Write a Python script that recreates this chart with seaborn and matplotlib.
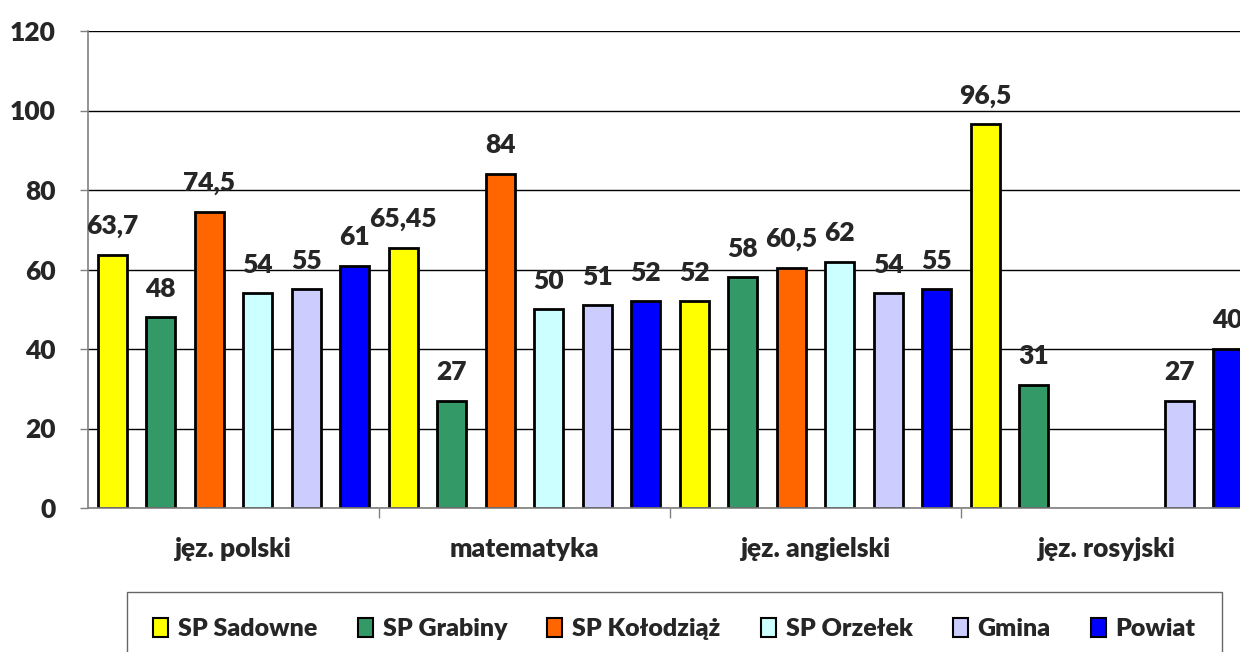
import pandas as pd
import numpy as np
import matplotlib
matplotlib.use("Agg")
import matplotlib.pyplot as plt
import seaborn as sns

# data
subjects = ["jęz. polski", "matematyka", "jęz. angielski", "jęz. rosyjski"]
schools = ["SP Sadowne", "SP Grabiny", "SP Kołodziąż", "SP Orzełek", "Gmina", "Powiat"]
sadowne = [63.7, 65.45, 52, 96.5]
grabiny = [48, 27, 58, 31]
kolodziaz = [74.5, 84, 60.5, np.nan]
orzelek = [54, 50, 62, np.nan]
gmina = [55, 51, 54, 27]
powiat = [61, 52, 55, 40]

colors = ["#FFFF00", "#339966", "#FF6600", "#CCFFFF", "#CCCCFF", "#0000FF"]

rows = []
for school, vals in zip(schools, [sadowne, grabiny, kolodziaz, orzelek, gmina, powiat]):
    for subj, v in zip(subjects, vals):
        rows.append({"przedmiot": subj, "szkola": school, "wynik": v})
df = pd.DataFrame(rows)

sns.set_theme(style="white")
plt.rcParams["font.family"] = ["Lato", "DejaVu Sans"]
plt.rcParams["font.weight"] = "bold"

fig = plt.figure(figsize=(12.4, 6.52), dpi=100)
ax = fig.add_axes([88 / 1240, 1 - 508 / 652, 1164 / 1240, 477 / 652])

sns.barplot(data=df, x="przedmiot", y="wynik", hue="szkola",
            order=subjects, hue_order=schools,
            palette=dict(zip(schools, colors)), saturation=1,
            width=1.0, gap=0.4, errorbar=None,
            edgecolor="black", linewidth=2, ax=ax)

# value labels, decimal comma as in the original
for cont in ax.containers:
    ax.bar_label(cont, fmt=lambda v: f"{v:g}".replace(".", ","),
                 padding=12, fontsize=19, fontweight="heavy")

ax.set_xlim(-0.5, 3.5)
ax.set_ylim(0, 120)
ax.set_yticks(range(0, 121, 20))
ax.set_xlabel("")
ax.set_ylabel("")

ax.yaxis.grid(True, color="black", linewidth=1)
ax.set_axisbelow(True)
for s in ["top", "right"]:
    ax.spines[s].set_visible(False)
ax.spines["left"].set_color("#808080")
ax.spines["bottom"].set_color("#808080")
ax.spines["left"].set_linewidth(1.2)
ax.spines["bottom"].set_linewidth(1.2)

ax.tick_params(axis="y", which="major", left=True, length=6, width=1,
               color="#808080", pad=17, labelsize=19)
ax.tick_params(axis="x", which="major", bottom=False, length=0, pad=21, labelsize=19)
ax.set_xticks([0.5, 1.5, 2.5], minor=True)
ax.tick_params(axis="x", which="minor", bottom=True, length=7, width=1, color="#808080")
for lbl in ax.get_xticklabels() + ax.get_yticklabels():
    lbl.set_fontweight("heavy")

sns.move_legend(ax, "upper center", bbox_to_anchor=(0.544, 1 - 592 / 652),
                bbox_transform=fig.transFigure, ncol=6, title=None,
                frameon=True, fancybox=False, edgecolor="#404040",
                prop={"size": 18, "weight": "heavy"}, borderaxespad=0,
                handlelength=0.6, handleheight=0.8, handletextpad=0.4,
                columnspacing=1.6, borderpad=1.05)
leg = ax.get_legend()
leg.get_frame().set_linewidth(1)
for h in leg.legend_handles:
    h.set_edgecolor("black")
    h.set_linewidth(1.5)

fig.savefig("out.png", dpi=100)
